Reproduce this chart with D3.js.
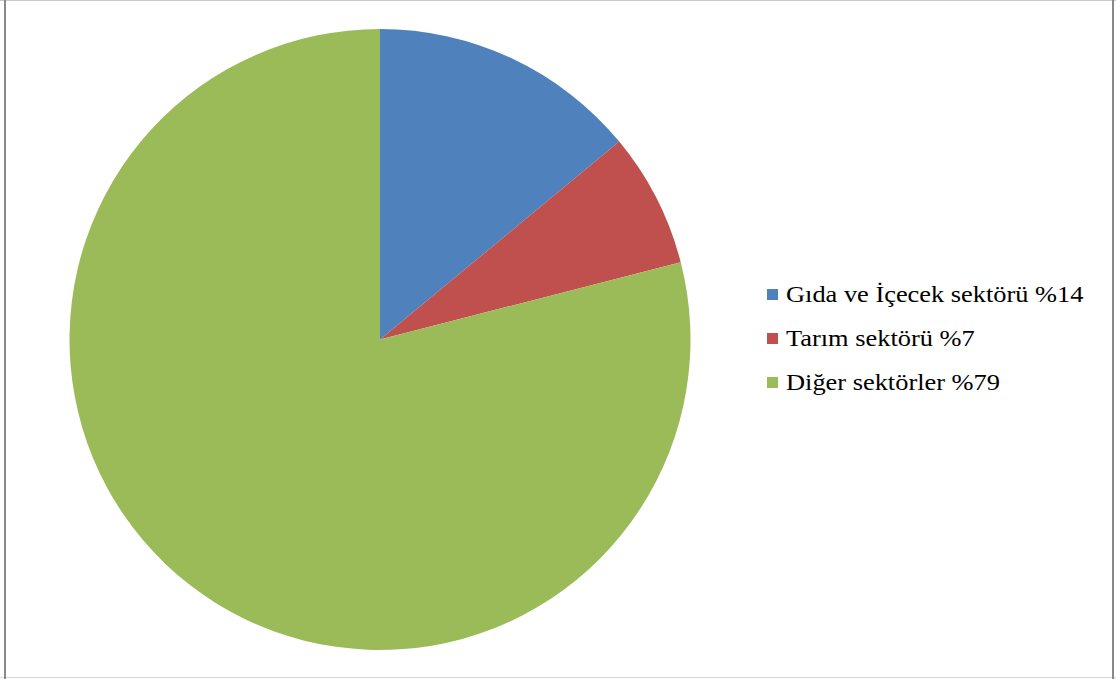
<!DOCTYPE html>
<html><head><meta charset="utf-8">
<script src="https://cdn.jsdelivr.net/npm/d3@7"></script>
<style>html,body{margin:0;padding:0;background:#fff;}svg{display:block;}</style>
</head><body>
<svg id="chart" width="1116" height="679"></svg>
<script>
const categories = ["Gıda ve İçecek sektörü %14", "Tarım sektörü %7", "Diğer sektörler %79"];
const values = [14, 7, 79];
const colors = ["#4F81BD", "#C0504D", "#9BBB59"];

const svg = d3.select("#chart");
const W = 1116, H = 679;

// frame
svg.append("rect").attr("x", 0).attr("y", 0).attr("width", W).attr("height", H).attr("fill", "#fff");
svg.append("line").attr("x1", 0).attr("x2", W).attr("y1", 0.5).attr("y2", 0.5).attr("stroke", "#c8c8c8");
svg.append("line").attr("x1", 0).attr("x2", W).attr("y1", 677.5).attr("y2", 677.5).attr("stroke", "#d8d8d8");
svg.append("line").attr("x1", 5).attr("x2", 5).attr("y1", 0).attr("y2", H).attr("stroke", "#888").attr("stroke-width", 2);
svg.append("line").attr("x1", 1113).attr("x2", 1113).attr("y1", 0).attr("y2", H).attr("stroke", "#888").attr("stroke-width", 2);

const cx = 380, cy = 339.5, r = 310.5;
const pie = d3.pie().sort(null).value(d => d);
const arc = d3.arc().innerRadius(0).outerRadius(r);
const g = svg.append("g").attr("transform", `translate(${cx},${cy})`);
g.selectAll("path").data(pie(values)).join("path")
  .attr("d", arc)
  .attr("fill", (d, i) => colors[i]);

const legend = svg.append("g").attr("transform", "translate(767,289)");
const rowH = 44;
const items = legend.selectAll("g").data(categories).join("g")
  .attr("transform", (d, i) => `translate(0,${i * rowH})`);
items.append("rect").attr("width", 11).attr("height", 11).attr("fill", (d, i) => colors[i]);
items.append("text").attr("transform", "translate(19,12.5) scale(1.1,1)")
  .attr("font-family", "'Liberation Serif', 'Times New Roman', serif")
  .attr("font-size", 24).attr("fill", "#000").text(d => d);
</script>
</body></html>
